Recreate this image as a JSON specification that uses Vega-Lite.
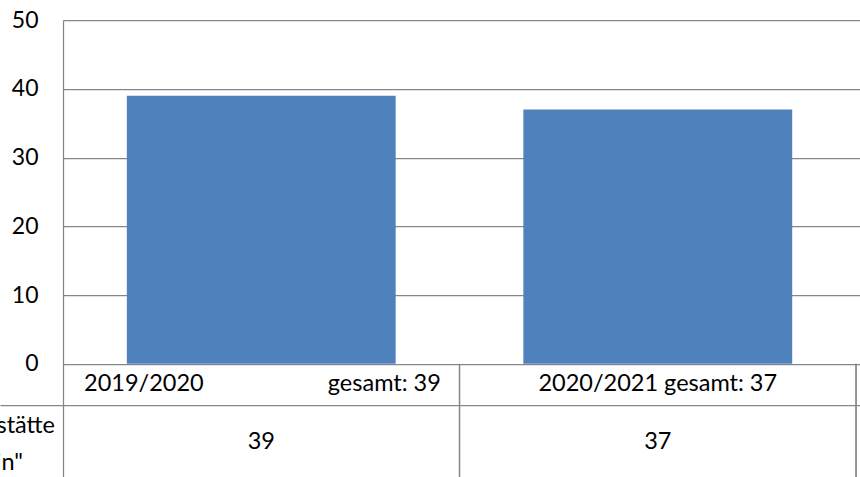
{
  "$schema": "https://vega.github.io/schema/vega-lite/v6.json",
  "autosize": "none",
  "padding": {"left": 63, "top": 20, "right": 0, "bottom": 0},
  "width": 797,
  "height": 457,
  "background": "white",
  "config": {"view": {"stroke": null}, "font": "Lato", "text": {"font": "Lato", "fontSize": 23.5, "color": "#000000"}},
  "data": {"values": [
    {"period": "2019/2020", "count": 39, "left": "2019/2020", "right": "gesamt: 39", "center": ""},
    {"period": "2020/2021", "count": 37, "left": "", "right": "", "center": "2020/2021 gesamt: 37"}
  ]},
  "encoding": {
    "x": {"field": "period", "type": "nominal", "axis": null,
          "scale": {"paddingInner": 0, "paddingOuter": 0.005, "align": 0}},
    "y": {"type": "quantitative", "scale": {"domain": [-16.45, 50], "nice": false, "zero": false},
          "axis": {"title": null, "values": [-5.96, 0, 10, 20, 30, 40, 50],
                   "labelExpr": "datum.value < 0 ? '' : datum.label",
                   "grid": true, "gridColor": "#868686", "gridWidth": 1.25,
                   "domainColor": "#868686", "domainWidth": 1.25,
                   "ticks": true, "tickSize": 63, "tickWidth": 1.25,
                   "tickColor": {"condition": {"test": "datum.value < 0", "value": "#868686"}, "value": "transparent"},
                   "labelPadding": -38, "labelFont": "Lato", "labelFontSize": 23, "labelColor": "#000000"}}
  },
  "layer": [
    {"mark": {"type": "bar", "color": "#4F81BD", "width": {"band": 0.678}},
     "encoding": {"y": {"field": "count", "type": "quantitative"}}},
    {"mark": {"type": "rule", "color": "#868686", "strokeWidth": 1.25},
     "encoding": {"x": {"datum": "2020/2021", "bandPosition": 0}, "y": {"datum": 0}, "y2": {"datum": -16.45}}},
    {"mark": {"type": "rule", "color": "#868686", "strokeWidth": 1.25},
     "encoding": {"x": {"datum": "2020/2021", "bandPosition": 1}, "y": {"datum": 0}, "y2": {"datum": -16.45}}},
    {"mark": {"type": "text", "align": "left", "baseline": "middle"},
     "encoding": {"x": {"field": "period", "type": "nominal", "bandPosition": 0.053}, "y": {"datum": -3}, "text": {"field": "left"}}},
    {"mark": {"type": "text", "align": "right", "baseline": "middle"},
     "encoding": {"x": {"field": "period", "type": "nominal", "bandPosition": 0.953}, "y": {"datum": -3}, "text": {"field": "right"}}},
    {"mark": {"type": "text", "align": "center", "baseline": "middle"},
     "encoding": {"y": {"datum": -3}, "text": {"field": "center"}}},
    {"mark": {"type": "text", "align": "center", "baseline": "middle"},
     "encoding": {"y": {"datum": -11.3}, "text": {"field": "count", "type": "quantitative"}}},
    {"data": {"values": [{"line1": "Kinder in der Kindertagesstätte", "line2": "„Sonnenschein\""}]},
     "layer": [
       {"mark": {"type": "text", "align": "right", "baseline": "middle", "dx": -8},
        "encoding": {"x": {"datum": "2019/2020", "bandPosition": 0}, "y": {"datum": -9.0}, "text": {"field": "line1"}}},
       {"mark": {"type": "text", "align": "right", "baseline": "middle", "dx": -40},
        "encoding": {"x": {"datum": "2019/2020", "bandPosition": 0}, "y": {"datum": -14.4}, "text": {"field": "line2"}}}
     ]}
  ]
}
